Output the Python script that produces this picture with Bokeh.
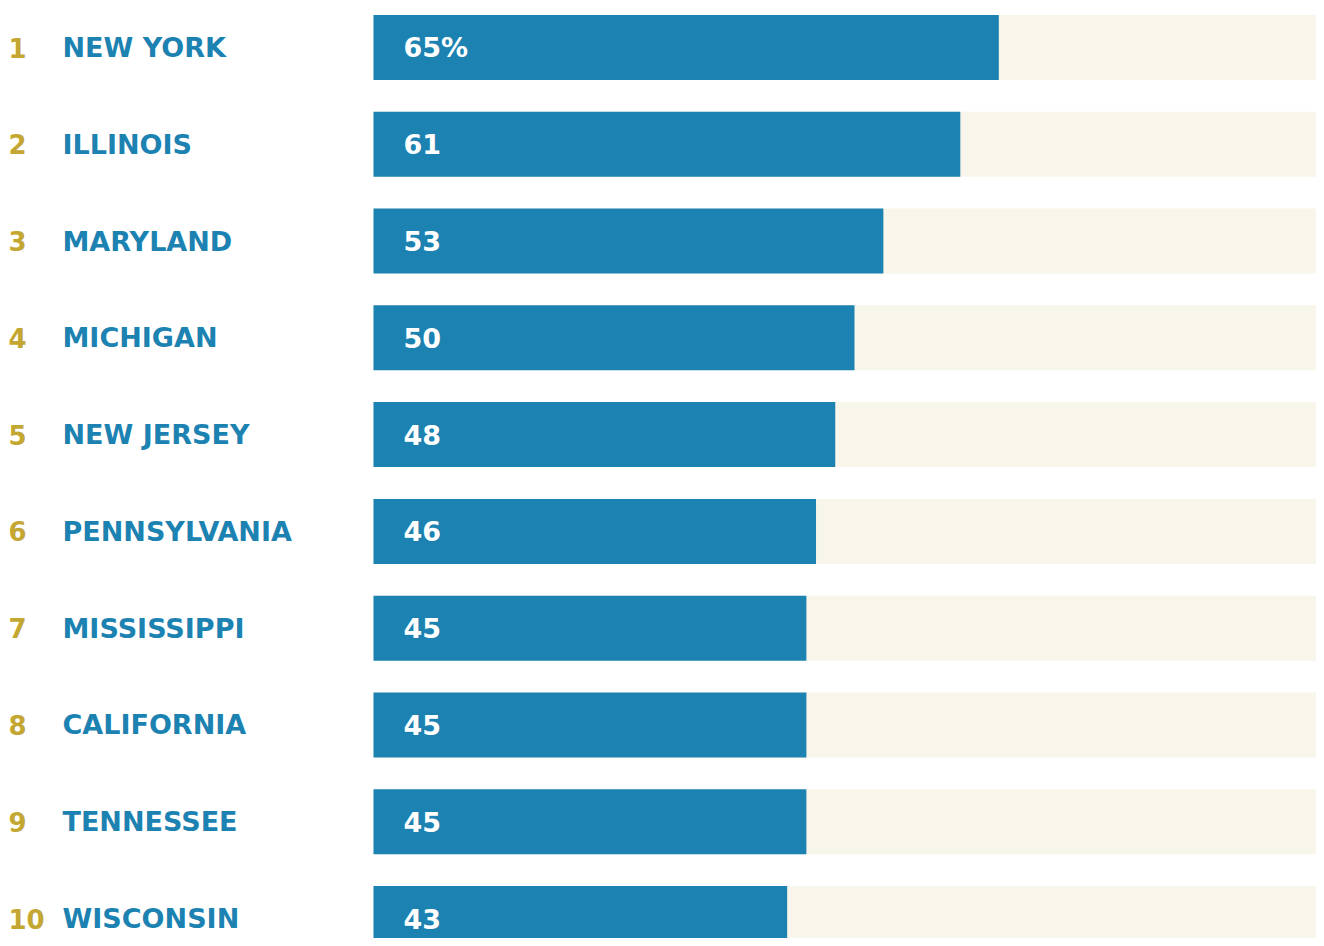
from bokeh.plotting import figure
from bokeh.models import Range1d, ColumnDataSource
from bokeh.embed import file_html
from bokeh.resources import INLINE
from bokeh.core.properties import value

# ---- data ----
ranks = ["1", "2", "3", "4", "5", "6", "7", "8", "9", "10"]
states = ["NEW YORK", "ILLINOIS", "MARYLAND", "MICHIGAN", "NEW JERSEY",
          "PENNSYLVANIA", "MISSISSIPPI", "CALIFORNIA", "TENNESSEE", "WISCONSIN"]
values = [65, 61, 53, 50, 48, 46, 45, 45, 45, 43]
value_labels = ["65%", "61", "53", "50", "48", "46", "45", "45", "45", "43"]
full_scale = 100

# ---- layout constants (pixels) ----
W, H = 1316, 938
px_per_unit = 9.62
bar_left_px = 373          # from the left edge of the figure
row_step_px = 96.78
first_row_px = 47.0        # centre of first row from top of figure
bar_h_px = 65

x0 = -bar_left_px / px_per_unit
x1 = (W - bar_left_px) / px_per_unit
y_top = -first_row_px / row_step_px
y_bot = (H - first_row_px) / row_step_px

idx = list(range(len(states)))
src = ColumnDataSource(dict(
    y=idx, rank=ranks, state=states, val=values, lab=value_labels,
    full=[full_scale] * len(states),
))

p = figure(width=W, height=H, output_backend="svg", toolbar_location=None,
           x_range=Range1d(x0, x1), y_range=Range1d(y_bot, y_top),
           min_border=0, x_axis_location=None, y_axis_location=None)
p.outline_line_color = None
p.xgrid.visible = False
p.ygrid.visible = False
p.background_fill_color = "white"
p.border_fill_color = "white"

bh = bar_h_px / row_step_px
p.hbar(y="y", left=0, right="full", height=bh, source=src,
       fill_color="#F8F6EA", line_color=None)
p.hbar(y="y", left=0, right="val", height=bh, source=src,
       fill_color="#1C82B1", line_color=None)

font = value("DejaVu Sans")
p.text(x=x0, y="y", text="rank", source=src, text_font=font,
       text_font_style="bold", text_font_size="26px", text_color="#C4A733",
       text_baseline="middle", text_align="left", x_offset=8)
p.text(x=x0, y="y", text="state", source=src, text_font=font,
       text_font_style="bold", text_font_size="27px", text_color="#1C82B1",
       text_baseline="middle", text_align="left", x_offset=62)
p.text(x=0, y="y", text="lab", source=src, text_font=font,
       text_font_style="bold", text_font_size="27px", text_color="white",
       text_baseline="middle", text_align="left", x_offset=30)

open("out.html", "w").write(file_html(p, INLINE))
